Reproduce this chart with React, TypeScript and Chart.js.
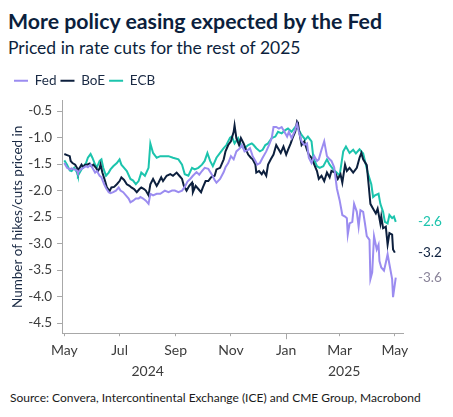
import React, { useEffect, useRef } from "react";
import { Chart, registerables } from "chart.js";

Chart.register(...registerables);

const FONT = "Lato, 'Open Sans', sans-serif";
const FED_COLOR = "#9b8cf0";
const BOE_COLOR = "#0c1f3d";
const ECB_COLOR = "#1cc4ad";

const monthTickDays = [0, 61, 123, 184, 245, 304, 365];
const monthTickLabels = ["May", "Jul", "Sep", "Nov", "Jan", "Mar", "May"];
const yearLabelDays = [92, 309];
const yearLabels = ["2024", "2025"];
const yTicks = [-0.5, -1.0, -1.5, -2.0, -2.5, -3.0, -3.5, -4.0, -4.5];

// days since 1 May 2024
const fedDays = [
  0, 3, 6, 8, 11, 14, 15, 18, 21, 24, 26, 29, 31, 34, 36, 39, 41, 44, 46, 49,
  51, 54, 57, 60, 62, 65, 68, 71, 73, 76, 79, 82, 84, 87, 90, 93, 95, 98, 102, 106,
  111, 115, 119, 122, 126, 130, 133, 136, 139, 142, 146, 149, 152, 155, 159, 163, 166, 168, 172, 176,
  178, 181, 184, 187, 190, 194, 196, 199, 203, 205, 208, 211, 213, 216, 219, 223, 226, 229, 231, 234,
  237, 240, 243, 246, 248, 251, 254, 257, 259, 262, 265, 268, 270, 273, 276, 279, 281, 284, 287, 290,
  293, 295, 298, 301, 304, 307, 310, 312, 313, 315, 318, 320, 323, 325, 327, 330, 332, 334, 337, 338,
  340, 342, 345, 347, 348, 350, 353, 355, 357, 359, 362, 363, 366,
];
const fedValues = [
  -1.48, -1.57, -1.6, -1.58, -1.6, -1.62, -1.66, -1.6, -1.57, -1.54,
  -1.56, -1.51, -1.57, -1.66, -1.63, -1.72, -1.75, -1.88, -1.95, -2.03,
  -2.05, -2.03, -2.0, -1.94, -2.0, -2.03, -2.09, -2.15, -2.22, -2.19,
  -2.15, -2.15, -2.12, -2.15, -2.19, -2.25, -2.06, -2.09, -2.06, -2.06,
  -2.0, -2.03, -2.0, -2.0, -2.03, -2.0, -1.93, -1.83, -1.78, -1.72,
  -1.65, -1.7, -1.63, -1.57, -1.59, -1.7, -1.8, -1.85, -1.78, -1.65,
  -1.56, -1.48, -1.35, -1.41, -1.26, -1.2, -1.14, -1.26, -1.23, -1.2,
  -1.35, -1.44, -1.51, -1.48, -1.38, -1.26, -1.14, -1.01, -0.8, -0.8,
  -0.83, -0.8, -0.89, -0.98, -0.89, -1.01, -0.89, -0.74, -0.89, -1.07,
  -1.14, -1.11, -1.38, -1.48, -1.35, -1.44, -1.41, -1.23, -1.07, -1.35,
  -1.41, -1.44, -1.56, -1.96, -2.18, -2.46, -2.49, -2.52, -2.83, -2.62,
  -2.59, -2.25, -2.4, -2.68, -2.37, -2.4, -2.62, -2.86, -2.93, -3.67,
  -3.54, -2.86, -3.11, -3.02, -3.33, -3.45, -3.51, -3.36, -3.2, -3.39,
  -3.67, -4.01, -3.64,
];

const boeDays = [
  0, 3, 6, 7, 9, 12, 14, 15, 17, 19, 21, 23, 25, 28, 30, 32, 35, 37, 39, 40,
  42, 45, 47, 50, 52, 55, 58, 61, 63, 66, 69, 72, 74, 77, 80, 83, 85, 88, 90, 93,
  95, 98, 102, 104, 107, 109, 113, 117, 120, 124, 127, 130, 132, 135, 138, 141, 142, 145, 148, 151,
  153, 156, 159, 162, 166, 168, 172, 176, 178, 181, 184, 187, 188, 190, 193, 195, 198, 200, 203, 206,
  208, 211, 212, 215, 218, 220, 223, 225, 228, 231, 234, 236, 239, 242, 245, 247, 250, 252, 255, 257,
  258, 260, 262, 265, 268, 270, 273, 276, 279, 281, 284, 287, 290, 293, 295, 299, 302, 305, 307, 310,
  312, 315, 319, 323, 326, 328, 330, 334, 336, 338, 341, 344, 346, 349, 350, 352, 355, 357, 359, 362,
  363, 365,
];
const boeValues = [
  -1.31, -1.33, -1.35, -1.44, -1.48, -1.51, -1.57, -1.63, -1.57, -1.51,
  -1.56, -1.51, -1.51, -1.49, -1.54, -1.51, -1.57, -1.63, -1.58, -1.51,
  -1.66, -1.82, -1.94, -2.01, -1.94, -1.93, -1.88, -1.82, -1.75, -1.8,
  -1.88, -1.91, -1.94, -1.97, -2.03, -1.97, -1.94, -1.97, -2.0, -2.09,
  -1.88, -1.78, -1.91, -1.85, -1.75, -1.82, -1.72, -1.69, -1.72, -1.66,
  -1.72, -1.78, -1.91, -2.0, -1.91, -1.85, -2.03, -1.91, -1.97, -2.03,
  -1.94, -1.82, -1.82, -1.75, -1.72, -1.6, -1.57, -1.41, -1.26, -1.14,
  -1.07, -0.89, -0.77, -1.01, -1.14, -1.01, -1.11, -1.2, -1.32, -1.38,
  -1.41, -1.51, -1.66, -1.63, -1.69, -1.63, -1.72, -1.51, -1.41, -1.32,
  -1.14, -1.2, -1.29, -1.17, -1.32, -1.23, -1.11, -1.01, -0.89, -0.7,
  -0.73, -0.95, -1.14, -1.07, -1.23, -1.32, -1.38, -1.51, -1.63, -1.78,
  -1.72, -1.82, -1.66, -1.75, -1.63, -1.66, -1.78, -1.69, -1.85, -1.51,
  -1.63, -1.57, -1.66, -1.57, -1.38, -1.29, -1.41, -1.52, -1.88, -2.25,
  -2.34, -2.43, -2.34, -2.62, -2.49, -2.71, -2.68, -3.02, -2.8, -2.83,
  -3.11, -3.17,
];

const ecbDays = [
  0, 3, 6, 8, 11, 14, 15, 18, 21, 24, 26, 29, 31, 34, 36, 39, 41, 43, 46, 49,
  51, 54, 58, 61, 63, 66, 69, 73, 76, 79, 82, 85, 89, 93, 95, 98, 102, 106, 108, 115,
  120, 126, 130, 133, 137, 141, 144, 148, 152, 155, 158, 161, 164, 168, 172, 176, 179, 183, 185, 188,
  192, 196, 199, 203, 207, 209, 212, 216, 219, 222, 225, 229, 233, 236, 240, 244, 247, 251, 255, 258,
  262, 266, 269, 273, 275, 279, 282, 286, 290, 293, 297, 301, 304, 308, 311, 315, 319, 322, 326, 330,
  333, 335, 339, 341, 343, 347, 349, 352, 354, 357, 359, 362, 364, 366,
];
const ecbValues = [
  -1.43, -1.51, -1.62, -1.63, -1.57, -1.66, -1.72, -1.63, -1.54, -1.48,
  -1.38, -1.31, -1.38, -1.51, -1.56, -1.44, -1.41, -1.57, -1.72, -1.66,
  -1.6, -1.54, -1.48, -1.41, -1.51, -1.57, -1.63, -1.78, -1.81, -1.88,
  -1.82, -1.66, -1.72, -1.57, -1.11, -1.29, -1.38, -1.35, -1.35, -1.35,
  -1.38, -1.41, -1.51, -1.69, -1.72, -1.57, -1.6, -1.57, -1.51, -1.44,
  -1.29, -1.44, -1.54, -1.38, -1.29, -1.2, -1.14, -1.0, -0.98, -1.11,
  -1.01, -1.17, -1.2, -1.14, -1.11, -1.14, -1.2, -1.26, -1.23, -1.14,
  -1.11, -1.01, -0.98, -0.89, -0.92, -0.86, -0.83, -0.89, -0.8, -0.83,
  -0.95, -1.04, -0.98, -1.07, -1.38, -1.54, -1.57, -1.54, -1.41, -1.51,
  -1.6, -1.66, -1.72, -1.26, -1.17, -1.29, -1.23, -1.3, -1.22, -1.3,
  -1.51, -1.66, -1.88, -2.12, -2.09, -2.06, -2.25, -2.4, -2.59, -2.62,
  -2.46, -2.52, -2.49, -2.59,
];

const endLabelColors = ["#8a8499", BOE_COLOR, ECB_COLOR];

const toPoints = (days: number[], values: number[]) =>
  days.map((d, i) => ({ x: d, y: values[i] }));

const legendGapPlugin = {
  id: "legendGap",
  beforeInit(chart: any) {
    const legend = chart.legend;
    if (!legend) return;
    const origFit = legend.fit;
    legend.fit = function () {
      origFit.call(this);
      this.height += 3;
    };
  },
};

const endLabelPlugin = {
  id: "endLabels",
  afterDatasetsDraw(chart: any) {
    const { ctx, chartArea } = chart;
    const yScale = chart.scales.y;
    ctx.save();
    ctx.font = `13.5px ${FONT}`;
    ctx.textAlign = "left";
    ctx.textBaseline = "middle";
    chart.data.datasets.forEach((ds: any, i: number) => {
      const last = ds.data[ds.data.length - 1];
      ctx.fillStyle = endLabelColors[i];
      ctx.fillText(last.y.toFixed(1), chartArea.right + 15, yScale.getPixelForValue(last.y));
    });
    ctx.restore();
  },
};

const yearLabelPlugin = {
  id: "yearLabels",
  afterDraw(chart: any) {
    const { ctx, chartArea } = chart;
    const xScale = chart.scales.x;
    ctx.save();
    ctx.font = `14px ${FONT}`;
    ctx.fillStyle = "#3c3c3c";
    ctx.textAlign = "center";
    ctx.textBaseline = "middle";
    yearLabelDays.forEach((d, i) => {
      ctx.fillText(yearLabels[i], xScale.getPixelForValue(d), chartArea.bottom + 38);
    });
    // longer tick at the year boundary
    ctx.strokeStyle = "#a8a8a8";
    ctx.lineWidth = 1;
    const jx = Math.round(xScale.getPixelForValue(monthTickDays[4])) + 0.5;
    ctx.beginPath();
    ctx.moveTo(jx, chartArea.bottom);
    ctx.lineTo(jx, chartArea.bottom + 6);
    ctx.stroke();
    ctx.restore();
  },
};

export default function App() {
  const canvasRef = useRef<HTMLCanvasElement>(null);

  useEffect(() => {
    if (!canvasRef.current) return;
    const chart = new Chart(canvasRef.current, {
      type: "line",
      data: {
        datasets: [
          { label: "Fed", data: toPoints(fedDays, fedValues), borderColor: FED_COLOR, backgroundColor: FED_COLOR, borderWidth: 2, pointRadius: 0, tension: 0 },
          { label: "BoE", data: toPoints(boeDays, boeValues), borderColor: BOE_COLOR, backgroundColor: BOE_COLOR, borderWidth: 2, pointRadius: 0, tension: 0 },
          { label: "ECB", data: toPoints(ecbDays, ecbValues), borderColor: ECB_COLOR, backgroundColor: ECB_COLOR, borderWidth: 2, pointRadius: 0, tension: 0 },
        ],
      },
      options: {
        animation: false,
        responsive: true,
        maintainAspectRatio: false,
        layout: { padding: { left: 10, right: 50, top: 0, bottom: 24 } },
        plugins: {
          legend: {
            display: true,
            position: "top",
            align: "start",
            labels: {
              usePointStyle: true,
              pointStyle: "line",
              pointStyleWidth: 14,
              boxHeight: 14,
              padding: 4,
              color: "#1a2a44",
              font: { family: FONT, size: 13.5 },
            },
          },
          tooltip: { enabled: false },
        },
        scales: {
          x: {
            type: "linear",
            min: -2.5,
            max: 374,
            afterBuildTicks: (scale: any) => {
              scale.ticks = monthTickDays.map((v) => ({ value: v }));
            },
            ticks: {
              callback: (value: any) => monthTickLabels[monthTickDays.indexOf(Number(value))] ?? "",
              color: "#3c3c3c",
              font: { family: FONT, size: 14 },
              padding: 6,
              maxRotation: 0,
              autoSkip: false,
            },
            grid: { display: true, drawOnChartArea: false, drawTicks: true, tickLength: 3, color: "#a8a8a8" },
            border: { display: true, color: "#a8a8a8" },
          },
          y: {
            type: "linear",
            min: -4.69,
            max: -0.3,
            afterBuildTicks: (scale: any) => {
              scale.ticks = yTicks.map((v) => ({ value: v }));
            },
            ticks: {
              callback: (value: any) => Number(value).toFixed(1),
              color: "#3c3c3c",
              font: { family: FONT, size: 13.5 },
              padding: 5,
            },
            title: {
              display: true,
              text: "Number of hikes/cuts priced in",
              color: "#1a2a44",
              font: { family: FONT, size: 13.5 },
              padding: { top: 0, bottom: -3 },
            },
            grid: { display: true, drawOnChartArea: false, drawTicks: true, tickLength: 5, color: "#a8a8a8" },
            border: { display: true, color: "#a8a8a8" },
          },
        },
      },
      plugins: [legendGapPlugin, endLabelPlugin, yearLabelPlugin],
    });
    return () => chart.destroy();
  }, []);

  return (
    <div style={{ position: "absolute", left: 0, top: 0, width: 453, height: 417, background: "#fff", fontFamily: FONT }}>
      <div style={{ position: "absolute", left: 8, top: 9, fontSize: 21.3, lineHeight: 1.2, fontWeight: 700, color: "#0c1f3d", whiteSpace: "nowrap" }}>
        More policy easing expected by the Fed
      </div>
      <div style={{ position: "absolute", left: 8, top: 37, fontSize: 17.5, lineHeight: 1.2, color: "#0c1f3d", whiteSpace: "nowrap" }}>
        Priced in rate cuts for the rest of 2025
      </div>
      <div style={{ position: "absolute", left: 0, top: 70, width: 453, height: 319 }}>
        <canvas ref={canvasRef} />
      </div>
      <div style={{ position: "absolute", left: 10, top: 391, fontSize: 12, lineHeight: 1.2, color: "#1a1a1a", whiteSpace: "nowrap" }}>
        Source: Convera, Intercontinental Exchange (ICE) and CME Group, Macrobond
      </div>
    </div>
  );
}
